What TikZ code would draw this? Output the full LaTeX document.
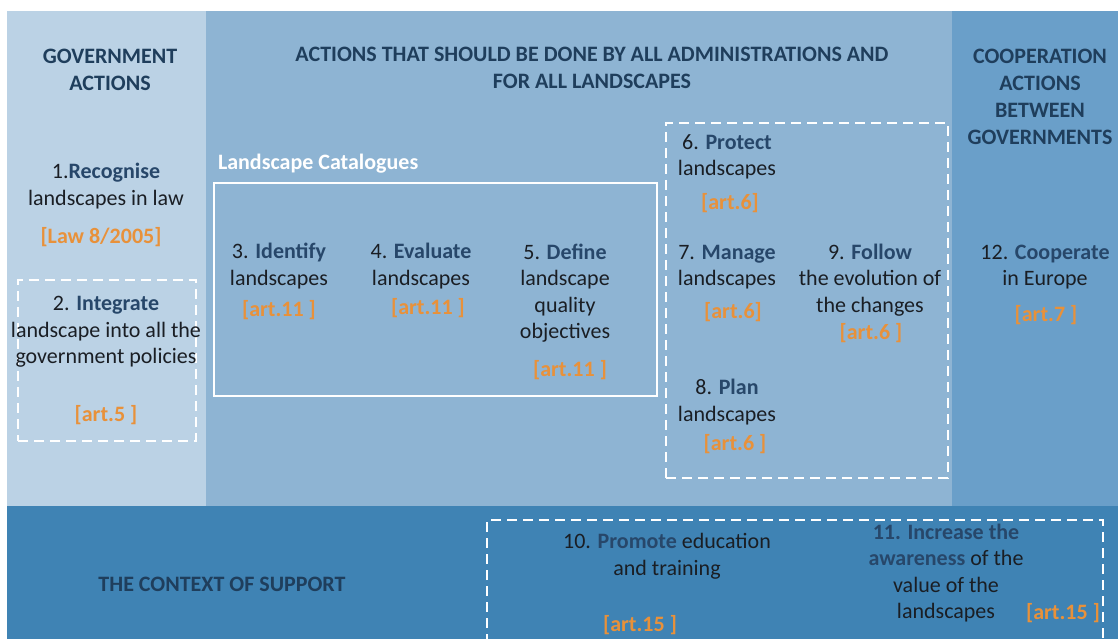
\documentclass[tikz,border=0pt]{standalone}
\usepackage{fontspec}
\setmainfont{Carlito}
\definecolor{pnlA}{HTML}{BBD2E5}
\definecolor{pnlB}{HTML}{8EB4D3}
\definecolor{pnlC}{HTML}{6A9FC9}
\definecolor{pnlD}{HTML}{3F83B4}
\definecolor{ttl}{HTML}{1F3E5C}
\definecolor{bld}{HTML}{27476A}
\definecolor{txt}{HTML}{1A1E24}
\definecolor{org}{HTML}{E8913A}
\begin{document}
\begin{tikzpicture}[x=1pt,y=-1pt,
  every node/.style={inner sep=0pt,outer sep=0pt},
  head/.style={font=\fontsize{22}{27}\selectfont\bfseries,text=ttl,align=center},
  item/.style={font=\fontsize{22}{26.5}\selectfont,text=txt,align=center},
  art/.style={font=\fontsize{22}{26}\selectfont\bfseries,text=org,align=center},
  dbox/.style={draw=white,line width=2.2pt,dash pattern=on 10pt off 6pt},
  sbox/.style={draw=white,line width=2.2pt}]
\useasboundingbox (0,0) rectangle (1118,639);
\fill[white] (0,0) rectangle (1118,639);
% panels
\fill[pnlA] (7,11) rectangle (206,506);
\fill[pnlB] (206,11) rectangle (952,506);
\fill[pnlC] (952,11) rectangle (1118,506);
\fill[pnlD] (7,506) rectangle (1118,639);
% boxes
\node[sbox,minimum width=443pt,minimum height=213pt,anchor=north west] (cat) at (214,183) {};
\node[dbox,minimum width=178pt,minimum height=161pt,anchor=north west] (b2) at (18,280) {};
\node[dbox,minimum width=282pt,minimum height=355pt,anchor=north west] (b6) at (666,123) {};
\draw[dbox] (487,660) coordinate (bl) -- (487,520) coordinate (tl) -- (1103,520) coordinate (tr) -- (1103,660) coordinate (br);
% headings
\node[head] (h1) at (110,70) {GOVERNMENT\\ACTIONS};
\node[head] (h2) at (592,68) {ACTIONS THAT SHOULD BE DONE BY ALL ADMINISTRATIONS AND\\FOR ALL LANDSCAPES};
\node[head] (h3) at (1040,97) {COOPERATION\\ACTIONS\\BETWEEN\\GOVERNMENTS};
\node[font=\fontsize{22}{24}\selectfont\bfseries,text=white,anchor=west] (lc) at (218,164) {Landscape Catalogues};
\node[head] (h4) at (222,584) {THE CONTEXT OF SUPPORT};
% items
\node[item] (i1) at (106,186) {1.\textbf{\color{bld}Recognise}\\landscapes in law};
\node[art] (a1) at (101,237) {[Law 8/2005]};
\node[item] (i2) at (106,332) {2. \textbf{\color{bld}Integrate}\\landscape into all the\\government policies};
\node[art] (a2) at (106,415) {[art.5 ]};
\node[item] (i3) at (279,266) {3. \textbf{\color{bld}Identify}\\landscapes};
\node[art] (a3) at (279,310) {[art.11 ]};
\node[item] (i4) at (421,266) {4. \textbf{\color{bld}Evaluate}\\landscapes};
\node[art] (a4) at (428,308) {[art.11 ]};
\node[item] (i5) at (565,293) {5. \textbf{\color{bld}Define}\\landscape\\quality\\objectives};
\node[art] (a5) at (570,370) {[art.11 ]};
\node[item] (i6) at (727,157) {6. \textbf{\color{bld}Protect}\\landscapes};
\node[art] (a6) at (730,203) {[art.6]};
\node[item] (i7) at (727,267) {7. \textbf{\color{bld}Manage}\\landscapes};
\node[art] (a7) at (733,312) {[art.6]};
\node[item] (i9) at (870,280) {9. \textbf{\color{bld}Follow}\\the evolution of\\the changes};
\node[art] (a9) at (871,333) {[art.6 ]};
\node[item] (i8) at (727,402) {8. \textbf{\color{bld}Plan}\\landscapes};
\node[art] (a8) at (735,444) {[art.6 ]};
\node[item] (i12) at (1045,267) {12. \textbf{\color{bld}Cooperate}\\in Europe};
\node[art] (a12) at (1046,315) {[art.7 ]};
\node[item] (i10) at (667,556) {10. \textbf{\color{bld}Promote} education\\and training};
\node[art] (a10) at (640,625) {[art.15 ]};
\node[item] (i11) at (946,573) {\textbf{\color{bld}11. Increase the}\\\textbf{\color{bld}awareness} of the\\value of the\\landscapes};
\node[art] (a11) at (1063,613) {[art.15 ]};
\end{tikzpicture}
\end{document}
